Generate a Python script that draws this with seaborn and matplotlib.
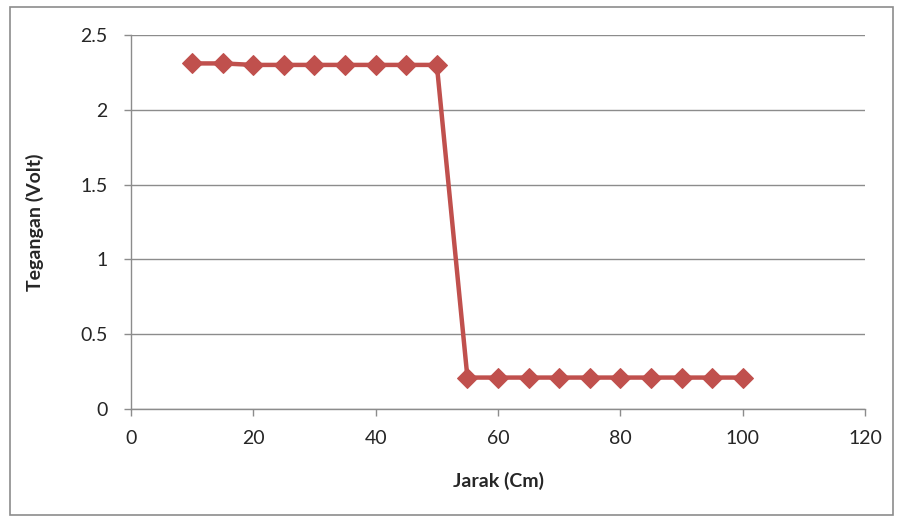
import numpy as np
import pandas as pd
import matplotlib.pyplot as plt
import seaborn as sns
from matplotlib.patches import Rectangle

# data
jarak = [10, 15, 20, 25, 30, 35, 40, 45, 50, 55, 60, 65, 70, 75, 80, 85, 90, 95, 100]
tegangan = [2.31, 2.31, 2.30, 2.30, 2.30, 2.30, 2.30, 2.30, 2.30,
            0.21, 0.21, 0.21, 0.21, 0.21, 0.21, 0.21, 0.21, 0.21, 0.21]

df = pd.DataFrame({"Jarak (Cm)": jarak, "Tegangan (Volt)": tegangan})

sns.set_style("white")
plt.rcParams['font.family'] = ['Lato', 'DejaVu Sans']

fig = plt.figure(figsize=(8.99, 5.2), dpi=100)
ax = fig.add_axes([0.1457, 0.2135, 0.8165, 0.7192])

sns.lineplot(data=df, x="Jarak (Cm)", y="Tegangan (Volt)", ax=ax,
             color="#C0504D", linewidth=3.2, marker="D", markersize=10,
             markeredgecolor="#C0504D")

ax.set_xlim(0, 120)
ax.set_ylim(0, 2.5)
ax.set_xticks(np.arange(0, 121, 20))
ax.set_yticks([0, 0.5, 1, 1.5, 2, 2.5])
ax.set_yticklabels(["0", "0.5", "1", "1.5", "2", "2.5"])
ax.yaxis.grid(True, color="#8c8c8c", linewidth=1)
ax.xaxis.grid(False)
ax.set_axisbelow(True)

for s in ["top", "right"]:
    ax.spines[s].set_visible(False)
for s in ["left", "bottom"]:
    ax.spines[s].set_color("#8c8c8c")
    ax.spines[s].set_linewidth(1)

ax.tick_params(axis="both", length=5, width=1, color="#8c8c8c",
               labelsize=14, direction="out", left=True, bottom=True)
ax.tick_params(axis="y", pad=12)
ax.tick_params(axis="x", pad=10)

ax.set_xlabel("Jarak (Cm)", fontsize=14, fontweight="bold")
ax.set_ylabel("Tegangan (Volt)", fontsize=14, fontweight="bold")
ax.xaxis.set_label_coords(0.5, -0.168)
ax.yaxis.set_label_coords(-0.118, 0.5)

# outer chart border
fig.patches.append(Rectangle((10 / 899, 5 / 520), 883 / 899, 508 / 520,
                             transform=fig.transFigure, fill=False,
                             edgecolor="#8c8c8c", linewidth=1.2))

fig.savefig("out.png", dpi=100)
